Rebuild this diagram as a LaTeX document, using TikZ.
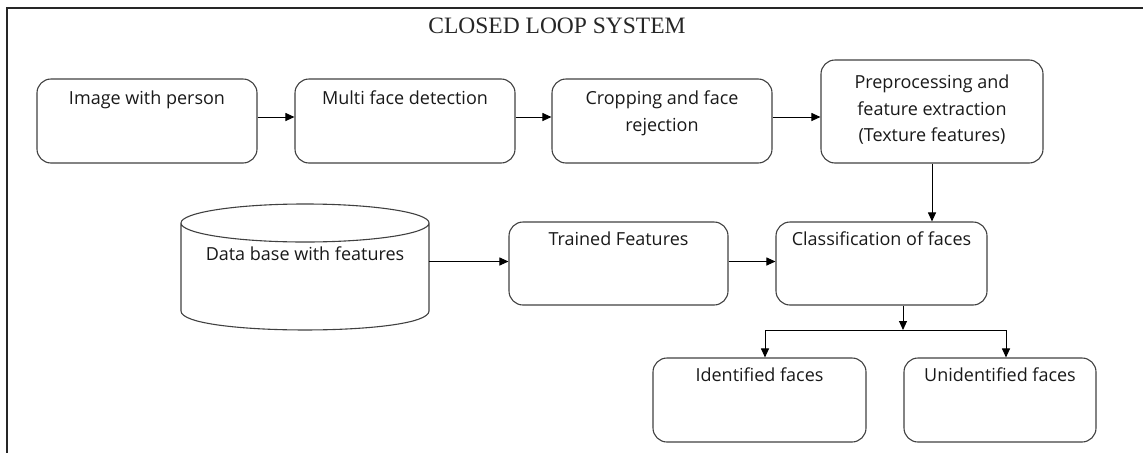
\documentclass[tikz,border=0pt]{standalone}
\usepackage{fontspec}
\setmainfont{Liberation Serif}
\newfontfamily\boxfont{Open Sans}
\usetikzlibrary{arrows.meta,calc}
\begin{document}
\begin{tikzpicture}[x=1pt,y=-1pt,
  stepbox/.style={draw=black!75, line width=1.1pt, rounded corners=14pt,
    minimum width=#1, inner sep=0pt},
  boxtext/.style={font=\boxfont\fontsize{18}{26.5}\selectfont, align=center,
    anchor=north, text=black!90},
  arr/.style={draw=black, line width=1pt, -{Triangle[length=9pt,width=8pt]}},
  link/.style={draw=black, line width=1pt}]
\useasboundingbox (0,0) rectangle (1143,453);

% outer frame (top and left edges only)
\draw[line width=1.3pt, black!85] (1143,8) -- (7,8) -- (7,453);
\node[font=\fontsize{23.5}{26}\selectfont, text=black!85] (title) at (557,26) {CLOSED LOOP SYSTEM};

% top row
\node[stepbox=220pt, minimum height=84pt] (img) at (147,121) {};
\node[stepbox=220pt, minimum height=84pt] (mfd) at (405,121) {};
\node[stepbox=220pt, minimum height=84pt] (crop) at (662,121) {};
\node[stepbox=222pt, minimum height=103pt] (pre) at (932,111.5) {};
\node[boxtext] at ($(img.north)+(0,9)$) {Image with person};
\node[boxtext] at ($(mfd.north)+(0,9)$) {Multi face detection};
\node[boxtext] at ($(crop.north)+(0,9)$) {Cropping and face\\rejection};
\node[boxtext] at ($(pre.north)+(0,12)$) {Preprocessing and\\feature extraction\\(Texture features)};

% database cylinder
\node[minimum width=248pt, minimum height=126pt, inner sep=0pt] (db) at (305,267) {};
\draw[draw=black!75, line width=1.1pt]
  (305,223) ellipse[x radius=124pt, y radius=19pt]
  (181,223) -- (181,311)
  .. controls (181,336.3) and (429,336.3) .. (429,311) -- (429,223);
\node[boxtext] at (305,243) {Data base with features};

% middle row
\node[stepbox=219pt, minimum height=83pt] (tr) at (618.5,263.5) {};
\node[stepbox=211pt, minimum height=83pt] (cls) at (881.5,263.5) {};
\node[boxtext] at ($(tr.north)+(0,7)$) {Trained Features};
\node[boxtext] at ($(cls.north)+(0,7)$) {Classification of faces};

% results
\node[stepbox=213pt, minimum height=84pt] (idf) at (759.5,400) {};
\node[stepbox=192pt, minimum height=84pt] (uid) at (1000,400) {};
\node[boxtext] at ($(idf.north)+(0,7)$) {Identified faces};
\node[boxtext] at ($(uid.north)+(0,7)$) {Unidentified faces};

% connectors
\draw[arr] ([yshift=4pt]img.east) -- ([yshift=4pt]img.east -| mfd.west);
\draw[arr] ([yshift=4pt]mfd.east) -- ([yshift=4pt]mfd.east -| crop.west);
\draw[arr] ([yshift=4pt]crop.east) -- ([yshift=4pt]crop.east -| pre.west);
\draw[arr] (pre.south) -- (pre.south |- cls.north);
\draw[arr] ([yshift=2pt]db.east |- tr.west) -- ([yshift=2pt]tr.west);
\draw[arr] ([yshift=2pt]tr.east) -- ([yshift=2pt]cls.west);

\coordinate (split) at (903,330);
\coordinate (bl) at (765,330);
\coordinate (br) at (1006,330);
\draw[arr] (split |- cls.south) -- (split);
\draw[link] (bl) -- (br);
\draw[arr] (bl) -- (bl |- idf.north);
\draw[arr] (br) -- (br |- uid.north);
\end{tikzpicture}
\end{document}
